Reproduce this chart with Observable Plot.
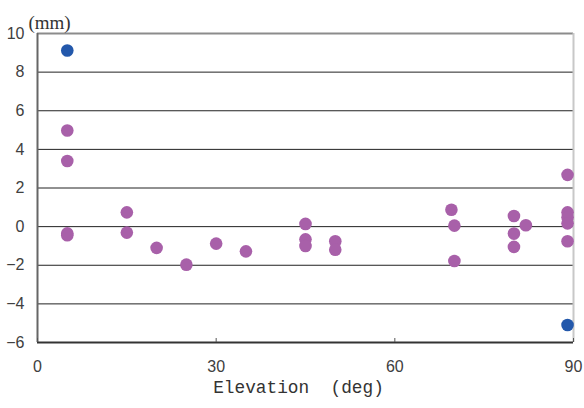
<!DOCTYPE html>
<html>
<head>
<meta charset="utf-8">
<script src="https://cdn.jsdelivr.net/npm/d3@7"></script>
<script src="https://cdn.jsdelivr.net/npm/@observablehq/plot@0.6"></script>
<style>
  html, body { margin: 0; padding: 0; background: #fff; }
</style>
</head>
<body>
<div id="chart"></div>
<script>
// Data
const elevation = [5, 5, 5, 5, 5, 15, 15, 20, 25, 30, 35, 45, 45, 45, 50, 50, 69.5, 70, 70, 80, 80, 80, 82, 89, 89, 89, 89, 89, 89];
const displacement = [9.12, 4.98, 3.4, -0.35, -0.45, 0.74, -0.31, -1.1, -1.97, -0.88, -1.28, 0.14, -0.66, -1.0, -0.76, -1.2, 0.87, 0.05, -1.78, 0.55, -0.36, -1.05, 0.07, 2.68, 0.74, 0.48, 0.17, -0.76, -5.09];
const group = ["blue", "purple", "purple", "purple", "purple", "purple", "purple", "purple", "purple", "purple", "purple", "purple", "purple", "purple", "purple", "purple", "purple", "purple", "purple", "purple", "purple", "purple", "purple", "purple", "purple", "purple", "purple", "purple", "blue"];
const xTicks = [0, 30, 60, 90];
const yTicks = [-6, -4, -2, 0, 2, 4, 6, 8, 10];
const yGrid = [-4, -2, 0, 2, 4, 6, 8];
const xLabel = "Elevation  (deg)";
const yUnit = "(mm)";

const data = elevation.map((e, i) => ({ x: e, y: displacement[i], g: group[i] }));
const colorOf = { purple: "#a860a9", blue: "#2358ab" };

const chart = Plot.plot({
  width: 584,
  height: 408,
  marginLeft: 37,
  marginRight: 11,
  marginTop: 33,
  marginBottom: 66,
  style: { fontFamily: "Liberation Sans, Arial, sans-serif", background: "#fff" },
  x: { domain: [0, 90] },
  y: { domain: [-6, 10] },
  marks: [
    Plot.ruleY(yGrid, { stroke: "#222", strokeWidth: 1 }),
    Plot.ruleY([10], { stroke: "#8c8c8c", strokeWidth: 2 }),
    Plot.ruleX([90], { stroke: "#c8c8c8", strokeWidth: 2 }),
    Plot.ruleX([0], { stroke: "#666", strokeWidth: 2 }),
    Plot.ruleY([-6], { stroke: "#333", strokeWidth: 2 }),
    Plot.axisX({ ticks: xTicks, tickSize: -4, tickPadding: 22, fontSize: 16, color: "#404040", stroke: "#555", label: null }),
    Plot.axisY({ ticks: yTicks, tickSize: 0, tickPadding: 13, fontSize: 16, color: "#404040", label: null }),
    Plot.dot(data, { x: "x", y: "y", r: 6.3, fill: d => colorOf[d.g], stroke: "none" }),
    Plot.text([xLabel], { frameAnchor: "bottom", dx: -7, dy: 50, fontSize: 17.8, fontFamily: "Liberation Mono, DejaVu Sans Mono, monospace", fill: "#333" }),
    Plot.text([yUnit], { frameAnchor: "top-left", textAnchor: "middle", dx: 12, dy: -18, fontSize: 19, fontFamily: "Liberation Serif, serif", fill: "#333" })
  ]
});
document.getElementById("chart").appendChild(chart);
</script>
</body>
</html>
